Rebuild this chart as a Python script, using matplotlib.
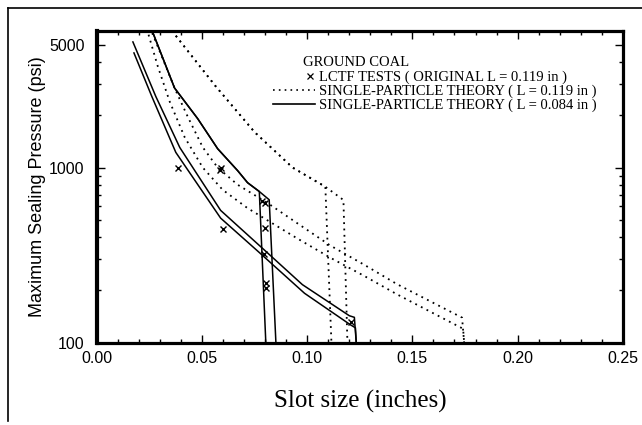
import numpy as np
import matplotlib
matplotlib.use("Agg")
import matplotlib.pyplot as plt
from matplotlib.lines import Line2D
from matplotlib.legend_handler import HandlerLine2D
from matplotlib.ticker import FixedLocator, FixedFormatter, MultipleLocator, NullFormatter

# LCTF test points (slot size in, pressure psi)
tests_x = [0.0384, 0.0585, 0.0590, 0.0598, 0.0787, 0.0800, 0.0798, 0.0792, 0.0803, 0.0803, 0.1206]
tests_y = [1000, 970, 990, 445, 642, 630, 450, 323, 221, 207, 131]

# single-particle theory, L = 0.119 in (dotted)
long119_a_x = [0.0251, 0.0280, 0.0337, 0.0370, 0.0432, 0.0503, 0.0574, 0.0669, 0.0811, 0.0953, 0.1110, 0.1271, 0.1428, 0.1584, 0.1736, 0.1746]
long119_a_y = [6300, 5210, 3540, 2824, 1945, 1305, 1000, 798, 628, 481, 359, 279, 216, 173, 139.5, 100]
long119_b_x = [0.0237, 0.0289, 0.0346, 0.0417, 0.0503, 0.0598, 0.0716, 0.0811, 0.0953, 0.1110, 0.1271, 0.1428, 0.1584, 0.1741, 0.1746]
long119_b_y = [6190, 3785, 2375, 1490, 1000, 746, 587, 500, 394, 306, 241, 189, 151, 120.5, 100]
short119_a_x = [0.0375, 0.0565, 0.0750, 0.0930, 0.1086, 0.1115]
short119_a_y = [5640, 2900, 1590, 1000, 777, 100]
short119_b_x = [0.0375, 0.0565, 0.0750, 0.0930, 0.1086, 0.1172, 0.1191]
short119_b_y = [5640, 2900, 1590, 1000, 777, 653, 100]

# single-particle theory, L = 0.084 in (solid)
long084_a_x = [0.0171, 0.0280, 0.0394, 0.0588, 0.0783, 0.0977, 0.1200, 0.1224, 0.1233]
long084_a_y = [5200, 2540, 1300, 570, 350, 215, 143, 140, 100]
long084_b_x = [0.0176, 0.0261, 0.0375, 0.0588, 0.0773, 0.0987, 0.1205, 0.1229, 0.1233]
long084_b_y = [4500, 2540, 1220, 515, 327, 192, 127, 122, 100]
short084_a_x = [0.0256, 0.0281, 0.0369, 0.0479, 0.0574, 0.0669, 0.0716, 0.0772, 0.0803]
short084_a_y = [6300, 5280, 2840, 1900, 1280, 960, 820, 730, 100]
short084_b_x = [0.0256, 0.0281, 0.0369, 0.0479, 0.0574, 0.0669, 0.0716, 0.0772, 0.0819, 0.0851]
short084_b_y = [6300, 5280, 2840, 1900, 1280, 960, 820, 730, 655, 100]

y_ticks = [100, 1000, 5000]
y_tick_labels = ['100', '1000', '5000']
x_ticks = [0.00, 0.05, 0.10, 0.15, 0.20, 0.25]
x_tick_labels = ['0.00', '0.05', '0.10', '0.15', '0.20', '0.25']


class MarkerRight(HandlerLine2D):
    # put the legend marker next to the label, like the original
    def create_artists(self, legend, orig_handle, xdescent, ydescent, width, height, fontsize, trans):
        arts = super().create_artists(legend, orig_handle, xdescent, ydescent, width, height, fontsize, trans)
        for a in arts:
            x = np.asarray(a.get_xdata(), dtype=float)
            a.set_xdata(np.full_like(x, width - xdescent - 0.35 * fontsize))
        return arts


fig = plt.figure(figsize=(6.42, 4.25), dpi=100)
ax = fig.add_axes([0.151, 0.193, 0.819, 0.734])

dot = (0, (1, 2.5))
for xs, ys in [(long119_a_x, long119_a_y), (long119_b_x, long119_b_y),
               (short119_a_x, short119_a_y), (short119_b_x, short119_b_y)]:
    ax.plot(xs, ys, color='black', lw=1.3, linestyle=dot)
for xs, ys in [(long084_a_x, long084_a_y), (long084_b_x, long084_b_y),
               (short084_a_x, short084_a_y), (short084_b_x, short084_b_y)]:
    ax.plot(xs, ys, color='black', lw=1.1)
ax.plot(tests_x, tests_y, linestyle='none', marker='x', color='black', ms=4.5, mew=1.0)

ax.set_yscale('log')
ax.set_xlim(0, 0.25)
ax.set_ylim(100, 6000)

ax.yaxis.set_major_locator(FixedLocator(y_ticks))
ax.yaxis.set_major_formatter(FixedFormatter(y_tick_labels))
ax.yaxis.set_minor_locator(FixedLocator([200, 300, 400, 500, 600, 700, 800, 900, 2000, 3000, 4000]))
ax.yaxis.set_minor_formatter(NullFormatter())
ax.xaxis.set_major_locator(FixedLocator(x_ticks))
ax.xaxis.set_major_formatter(FixedFormatter(x_tick_labels))
ax.xaxis.set_minor_locator(MultipleLocator(0.01))

ax.tick_params(which='both', direction='in', top=True, right=True, width=1.0)
ax.tick_params(which='major', length=6)
ax.tick_params(which='minor', length=3)
ax.tick_params(axis='x', which='major', pad=6, labelsize=11.5)
ax.tick_params(axis='y', which='major', pad=9, labelsize=11.5)
for lab in ax.get_xticklabels() + ax.get_yticklabels():
    lab.set_family('Liberation Sans')

for side in ['top', 'bottom', 'right']:
    ax.spines[side].set_linewidth(2.3)
ax.spines['left'].set_linewidth(3.0)

ax.set_xlabel('Slot size (inches)', family='Liberation Serif', fontsize=18, labelpad=17)
ax.set_ylabel('Maximum Sealing Pressure (psi)', family='Liberation Sans', fontsize=13, labelpad=2)

handles = [Line2D([], [], linestyle='none', marker='x', color='black', ms=4.5, mew=0.9),
           Line2D([], [], color='black', lw=1.2, linestyle=dot),
           Line2D([], [], color='black', lw=1.2)]
labels = ['LCTF TESTS ( ORIGINAL L = 0.119 in )',
          'SINGLE-PARTICLE THEORY ( L = 0.119 in )',
          'SINGLE-PARTICLE THEORY ( L = 0.084 in )']
leg = ax.legend(handles, labels, loc='upper left', bbox_to_anchor=(0.335, 0.872),
                frameon=False, borderpad=0, borderaxespad=0, handlelength=2.9,
                handletextpad=0.25, labelspacing=0.02,
                prop={'family': 'Liberation Serif', 'size': 10.5},
                handler_map={handles[0]: MarkerRight()})
ax.text(0.392, 0.898, 'GROUND COAL', transform=ax.transAxes, family='Liberation Serif',
        fontsize=10.5, va='center', ha='left')

# page frame lines from the scan
fig.add_artist(Line2D([7.5 / 642, 7.5 / 642], [0.01, 1 - 8 / 425], transform=fig.transFigure, color='black', lw=1.2))
fig.add_artist(Line2D([7.5 / 642, 1.0], [1 - 8 / 425, 1 - 8 / 425], transform=fig.transFigure, color='black', lw=1.2))

fig.savefig('out.png', dpi=100)
